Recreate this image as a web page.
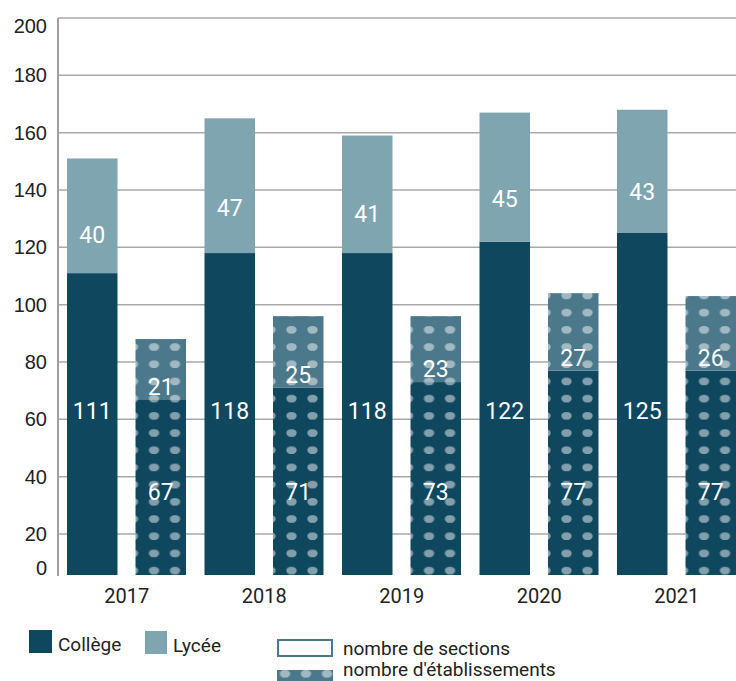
<!DOCTYPE html>
<html lang="fr">
  <head>
    <meta charset="UTF-8" />
    <title>Sections et établissements</title>
    <style>
      body {
        margin: 0;
        background: #fff;
      }
      .tick-label {
        font-family: "Liberation Sans", Arial, sans-serif;
        font-size: 20px;
        fill: #222;
      }
      .year-label {
        font-family: Roboto, sans-serif;
        font-size: 20px;
        fill: #222;
      }
      .val {
        font-family: Roboto, sans-serif;
        font-size: 23px;
        fill: #fff;
      }
      .legend text {
        font-family: Roboto, sans-serif;
        fill: #222;
      }
    </style>
  </head>
  <body>
    <div id="app"></div>
    <script src="https://cdn.jsdelivr.net/npm/d3@7"></script>
    <script>
      // données
      let years = ["2017", "2018", "2019", "2020", "2021"];
      let sectionsCollege = [111, 118, 118, 122, 125];
      let sectionsLycee = [40, 47, 41, 45, 43];
      let etabCollege = [67, 71, 73, 77, 77];
      let etabLycee = [21, 25, 23, 27, 26];
      let yTicks = [0, 20, 40, 60, 80, 100, 120, 140, 160, 180, 200];

      window.onload = function() {
        let width = 736;
        let height = 681;

        let cCollege = "#0f475e";
        let cLycee = "#7fa5b0";
        let cMid = "#4b788a";

        // axe vertical (bas écrasé comme sur l'original)
        let y = d3
          .scaleLinear()
          .domain([0, 20, 200])
          .range([575, 534, 18]);

        let x0 = d3
          .scaleBand()
          .domain(years)
          .range([58, 745.5]);

        let x1 = d3
          .scaleBand()
          .domain(["sections", "etab"])
          .range([9, 128])
          .paddingInner(0.263);

        const svg = d3
          .select("#app")
          .append("svg")
          .attr("width", width)
          .attr("height", height);

        // motifs à pois
        let defs = svg.append("defs");
        function dots(id, bg) {
          let p = defs
            .append("pattern")
            .attr("id", id)
            .attr("patternUnits", "userSpaceOnUse")
            .attr("x", 1.5)
            .attr("y", -5.6)
            .attr("width", 21)
            .attr("height", 17.2);
          p.append("rect")
            .attr("width", 21)
            .attr("height", 17.2)
            .attr("fill", bg);
          p.append("ellipse")
            .attr("cx", 10.5)
            .attr("cy", 8.6)
            .attr("rx", 5.2)
            .attr("ry", 3.9)
            .attr("fill", "#fff")
            .attr("fill-opacity", 0.48);
        }
        dots("dotsDark", cCollege);
        dots("dotsMid", cMid);

        // grille
        svg
          .append("g")
          .selectAll("line")
          .data(yTicks.filter(d => d > 0))
          .enter()
          .append("line")
          .attr("x1", 58)
          .attr("x2", width)
          .attr("y1", d => y(d))
          .attr("y2", d => y(d))
          .attr("stroke", "#a9a9a9")
          .attr("stroke-width", 1.5);

        svg
          .append("line")
          .attr("x1", 58)
          .attr("x2", 58)
          .attr("y1", y(200))
          .attr("y2", y(0) + 1)
          .attr("stroke", "#a0a0a0")
          .attr("stroke-width", 2);

        svg
          .append("g")
          .selectAll("text")
          .data(yTicks)
          .enter()
          .append("text")
          .attr("class", "tick-label")
          .attr("x", 47)
          .attr("y", d => Math.min(568, Math.max(26, y(d))))
          .attr("dy", "0.35em")
          .attr("text-anchor", "end")
          .text(d => d);

        // barres
        let rows = years.map((yr, i) => ({
          year: yr,
          sc: sectionsCollege[i],
          sl: sectionsLycee[i],
          ec: etabCollege[i],
          el: etabLycee[i]
        }));

        let groups = svg
          .append("g")
          .selectAll("g")
          .data(rows)
          .enter()
          .append("g")
          .attr("transform", d => `translate(${x0(d.year)},0)`);

        let bw = x1.bandwidth();

        groups
          .append("rect")
          .attr("x", x1("sections"))
          .attr("y", d => y(d.sc))
          .attr("width", bw)
          .attr("height", d => y(0) - y(d.sc))
          .attr("fill", cCollege);
        groups
          .append("rect")
          .attr("x", x1("sections"))
          .attr("y", d => y(d.sc + d.sl))
          .attr("width", bw)
          .attr("height", d => y(d.sc) - y(d.sc + d.sl))
          .attr("fill", cLycee);
        groups
          .append("rect")
          .attr("x", x1("etab"))
          .attr("y", d => y(d.ec))
          .attr("width", bw)
          .attr("height", d => y(0) - y(d.ec))
          .attr("fill", "url(#dotsDark)");
        groups
          .append("rect")
          .attr("x", x1("etab"))
          .attr("y", d => y(d.ec + d.el))
          .attr("width", bw)
          .attr("height", d => y(d.ec) - y(d.ec + d.el))
          .attr("fill", "url(#dotsMid)");

        // étiquettes
        let cx1 = x1("sections") + bw / 2;
        let cx2 = x1("etab") + bw / 2;
        function label(cx, fy, fv) {
          groups
            .append("text")
            .attr("class", "val")
            .attr("x", cx)
            .attr("y", fy)
            .attr("dy", "0.36em")
            .attr("text-anchor", "middle")
            .text(fv);
        }
        label(cx1, d => y(0) - 164, d => d.sc);
        label(cx1, d => y(d.sc + d.sl / 3), d => d.sl);
        label(cx2, d => y(0) - 83, d => d.ec);
        label(cx2, d => y(d.ec) - 13, d => d.el);

        // années
        svg
          .append("g")
          .selectAll("text")
          .data(years)
          .enter()
          .append("text")
          .attr("class", "year-label")
          .attr("x", d => x0(d) + x0.bandwidth() / 2)
          .attr("y", 603)
          .attr("text-anchor", "middle")
          .text(d => d);

        // légende
        let lg = svg.append("g").attr("class", "legend");
        lg.append("rect")
          .attr("x", 29)
          .attr("y", 630)
          .attr("width", 23)
          .attr("height", 23)
          .attr("fill", cCollege);
        lg.append("text")
          .attr("x", 58)
          .attr("y", 651)
          .style("font-size", "19px")
          .text("Collège");
        lg.append("rect")
          .attr("x", 145)
          .attr("y", 631)
          .attr("width", 22)
          .attr("height", 23)
          .attr("fill", cLycee);
        lg.append("text")
          .attr("x", 173)
          .attr("y", 652)
          .style("font-size", "19px")
          .text("Lycée");

        lg.append("rect")
          .attr("x", 278)
          .attr("y", 640)
          .attr("width", 54)
          .attr("height", 16)
          .attr("fill", "#fff")
          .attr("stroke", cMid)
          .attr("stroke-width", 2);
        lg.append("text")
          .attr("x", 343)
          .attr("y", 655)
          .style("font-size", "19px")
          .text("nombre de sections");
        lg.append("rect")
          .attr("x", 277)
          .attr("y", 670)
          .attr("width", 56)
          .attr("height", 18)
          .attr("fill", "url(#dotsMid)");
        lg.append("text")
          .attr("x", 343)
          .attr("y", 676)
          .style("font-size", "19px")
          .text("nombre d'établissements");
      };
    </script>
  </body>
</html>
